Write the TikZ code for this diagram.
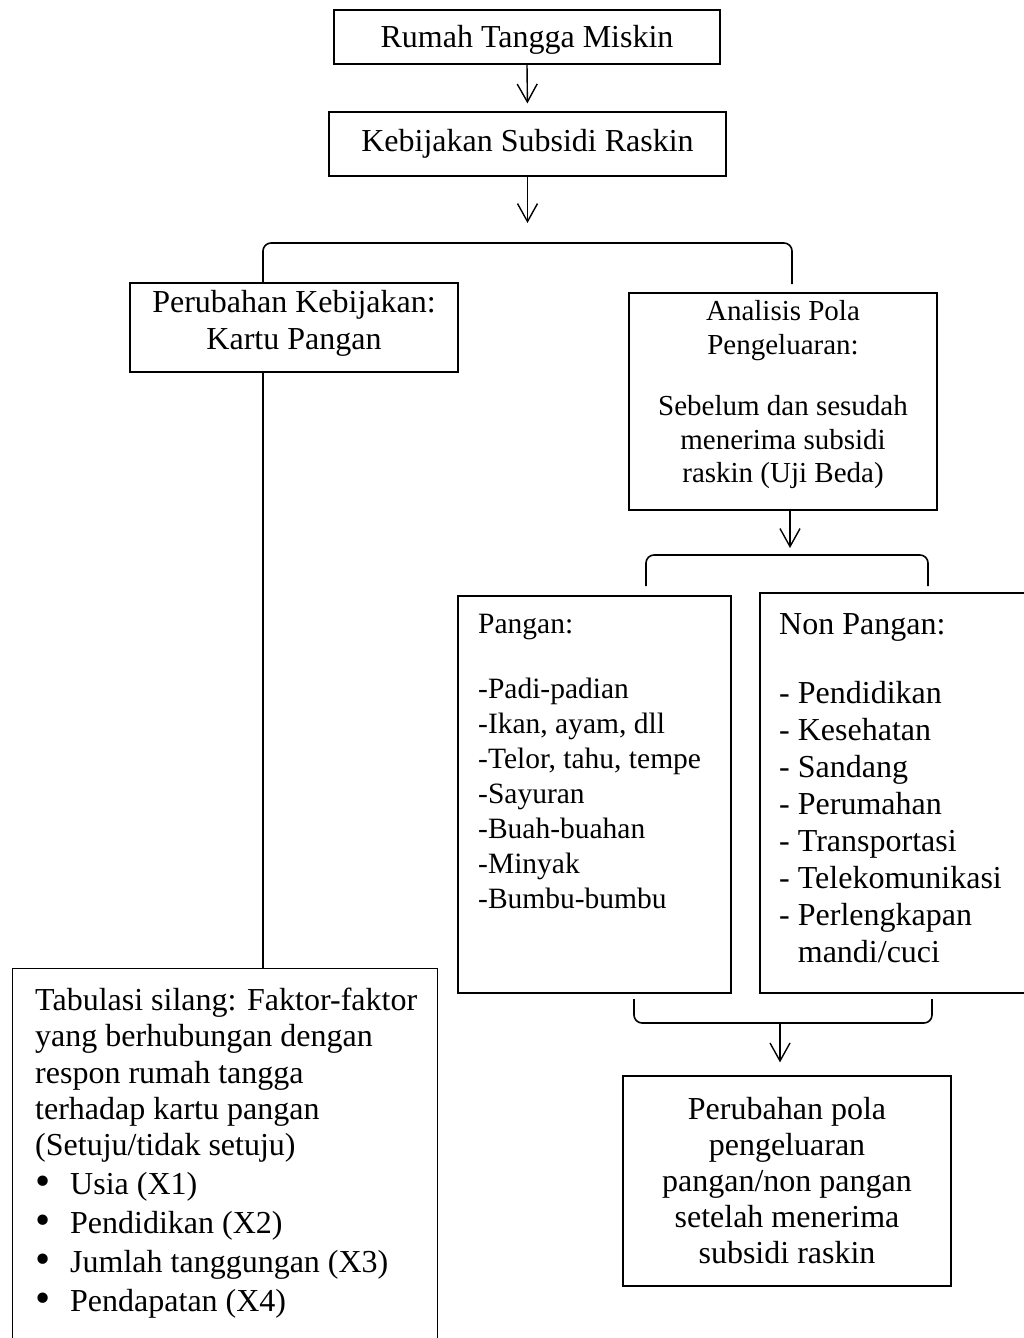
\documentclass[tikz,border=0pt]{standalone}
\usepackage{fontspec}
\setmainfont{Liberation Serif}
\usetikzlibrary{arrows.meta}
\newcommand{\bigbul}{\raisebox{-1pt}{\scalebox{1.35}{•}}}
\begin{document}
\begin{tikzpicture}[x=1pt,y=-1pt,
  box/.style={draw, line width=1.2pt, inner sep=0pt, rectangle, align=center},
  txt/.style={inner sep=0pt},
  fbig/.style={font=\fontsize{32}{37}\selectfont},
  arr/.style={line width=1.4pt, -{Straight Barb[length=18pt,width=20pt,line width=1.4pt]}},
  conn/.style={line width=1.3pt},
  brk/.style={line width=1.6pt, rounded corners=8pt},
]
\useasboundingbox (0,0) rectangle (1024,1338);
\clip (0,0) rectangle (1024,1338);

% boxes
\node[box, minimum width=386pt, minimum height=54pt] (b1) at (527,37) {};
\node[box, minimum width=397pt, minimum height=64pt] (b2) at (527.5,144) {};
\node[box, minimum width=328pt, minimum height=89pt] (per) at (294,327.5) {};
\node[box, minimum width=308pt, minimum height=217pt] (ana) at (783,401.5) {};
\node[box, minimum width=273pt, minimum height=397pt] (pan) at (594.5,794.5) {};
\node[box, minimum width=275pt, minimum height=400pt] (non) at (897.5,793) {};
\node[box, minimum width=328pt, minimum height=210pt] (fin) at (787,1181) {};
\node[box, minimum width=425pt, minimum height=420pt, anchor=north west] (tab) at (12,968) {};

% texts inside boxes
\node[txt, fbig] (b1text) at (527,40) {Rumah Tangga Miskin};
\node[txt, fbig] (b2text) at (527.5,144) {Kebijakan Subsidi Raskin};
\node[txt, fbig, align=center] (pertext) at (294,323) {Perubahan Kebijakan:\\Kartu Pangan};
\node[txt, align=center, font=\fontsize{29}{33.5}\selectfont] (anatext) at (783,395)
  {Analisis Pola\\Pengeluaran:\\[28pt]Sebelum dan sesudah\\menerima subsidi\\raskin (Uji Beda)};
\node[txt, align=left, anchor=north west, font=\fontsize{29.5}{35}\selectfont] (pantext) at (478,614)
  {Pangan:\\[30pt]-Padi-padian\\-Ikan, ayam, dll\\-Telor, tahu, tempe\\-Sayuran\\-Buah-buahan\\-Minyak\\-Bumbu-bumbu};
\node[txt, align=left, anchor=north west, fbig] (nontext) at (779,613)
  {Non Pangan:\\[32pt]- Pendidikan\\- Kesehatan\\- Sandang\\- Perumahan\\- Transportasi\\- Telekomunikasi\\- Perlengkapan\\\phantom{- }mandi/cuci};
\node[txt, align=center, font=\fontsize{32}{36}\selectfont] (fintext) at (787,1181)
  {Perubahan pola\\pengeluaran\\pangan/non pangan\\setelah menerima\\subsidi raskin};
\node[txt, align=left, anchor=north west, font=\fontsize{32}{36.25}\selectfont] (tabtext) at (35,988)
  {Tabulasi silang: Faktor-faktor\\yang berhubungan dengan\\respon rumah tangga\\terhadap kartu pangan\\(Setuju/tidak setuju)\\[2.75pt]
   \makebox[35pt][l]{\bigbul}Usia (X1)\\[2.75pt]
   \makebox[35pt][l]{\bigbul}Pendidikan (X2)\\[2.75pt]
   \makebox[35pt][l]{\bigbul}Jumlah tanggungan (X3)\\[2.75pt]
   \makebox[35pt][l]{\bigbul}Pendapatan (X4)};

% helper coordinates
\coordinate (k1) at (527.5,223);
\coordinate (L1) at (263,283);
\coordinate (R1) at (792,284);
\coordinate (T1) at (263,243);
\coordinate (k2) at (790,548);
\coordinate (L2) at (646,586);
\coordinate (T2) at (646,555);
\coordinate (R2) at (928,586);
\coordinate (L3) at (634,999);
\coordinate (T3) at (634,1023);
\coordinate (R3) at (932,999);
\coordinate (k3) at (780,1023);

% connectors
\draw[arr, shorten >=8pt] (b1.south) -- (b2.north);
\draw[arr] (b2.south) -- (k1);
\draw[brk] (L1) -- (T1) -- (T1 -| R1) -- (R1);
\draw[conn] (per.south -| L1) -- (tab.north -| L1);
\draw[arr] (ana.south -| k2) -- (k2);
\draw[brk] (L2) -- (T2) -- (T2 -| R2) -- (R2);
\draw[brk] (L3) -- (T3) -- (T3 -| R3) -- (R3);
\draw[arr, shorten >=13pt] (k3) -- (k3 |- fin.north);
\end{tikzpicture}
\end{document}
